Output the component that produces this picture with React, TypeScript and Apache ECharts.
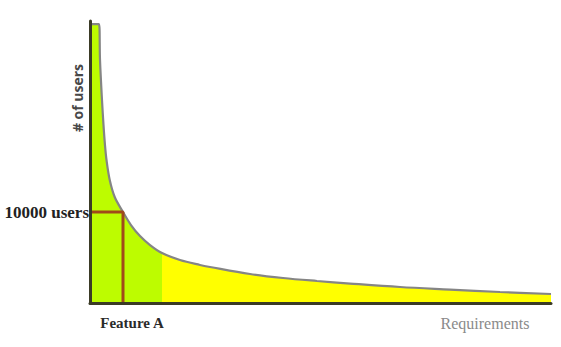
import React, { useEffect, useRef } from "react";
import * as echarts from "echarts";

// Long-tail curve: requirement rank (0..100) vs number of users
const curveX = [0, 1.95, 2.17, 2.6, 2.93, 3.25, 3.58, 4.28, 5.36, 7.16, 8.89, 10.85, 13.02, 15.62, 19.52, 23.86, 26.03, 34.71, 41.87, 49.24, 56.4, 67.25, 78.09, 88.94, 100];
const curveY = [30660, 30660, 26710, 22310, 19560, 17360, 15720, 13520, 11650, 10000, 8570, 7360, 6370, 5490, 4730, 4180, 3960, 3190, 2750, 2420, 2140, 1760, 1480, 1210, 990];
const xMax = 100;
const headLimit = 15.6; // end of the green "head" region
const featureX = 7.16;
const featureUsers = 10000;
const yTicks = [10000];
const texts = { yName: "# of users", xName: "Requirements", feature: "Feature A", usersLabel: "10000 users" };

export default function App() {
  const ref = useRef<HTMLDivElement>(null);
  useEffect(() => {
    if (!ref.current) return;
    const chart = echarts.init(ref.current, null, { renderer: "svg" });
    const pts = curveX.map((x, i) => [x, curveY[i]]);
    const f = headLimit / xMax;
    const green = "#bdfc00";
    const yellow = "#ffff00";
    const serif = "'Liberation Serif', 'DejaVu Serif', serif";
    const sans = "'Open Sans', 'Liberation Sans', sans-serif";
    chart.setOption({
      animation: false,
      grid: { left: 90, right: 10, top: 21, bottom: 44 },
      xAxis: {
        type: "value",
        min: 0,
        max: xMax,
        z: 5,
        axisLine: { show: true, lineStyle: { color: "#3b3b26", width: 3 } },
        axisTick: { show: false },
        axisLabel: { show: false },
        splitLine: { show: false },
      },
      yAxis: {
        type: "value",
        min: 0,
        max: 31000,
        interval: 10000,
        z: 5,
        axisLine: { show: true, lineStyle: { color: "#3b3b26", width: 3 } },
        axisTick: { show: false },
        splitLine: { show: false },
        axisLabel: {
          margin: 1,
          color: "#222",
          fontFamily: serif,
          fontWeight: "bold",
          fontSize: 17,
          formatter: (v: number) => (yTicks.includes(v) ? texts.usersLabel : ""),
        },
      },
      series: [
        {
          type: "line",
          data: pts,
          smooth: 0.35,
          symbol: "none",
          lineStyle: { color: "#858585", width: 2.2 },
          areaStyle: {
            opacity: 1,
            color: {
              type: "linear",
              x: 0,
              y: 0,
              x2: 1,
              y2: 0,
              colorStops: [
                { offset: 0, color: green },
                { offset: f, color: green },
                { offset: f, color: yellow },
                { offset: 1, color: yellow },
              ],
            },
          },
          z: 2,
        },
        {
          type: "line",
          data: [
            [0, featureUsers],
            [featureX, featureUsers],
            [featureX, 0],
          ],
          symbol: "none",
          lineStyle: { color: "#a04a1a", width: 3 },
          z: 3,
        },
      ],
      graphic: [
        {
          type: "text",
          x: 77,
          y: 98,
          rotation: Math.PI / 2,
          style: {
            text: texts.yName,
            fill: "#484848",
            font: `bold 14px ${sans}`,
            align: "center",
            verticalAlign: "middle",
          },
        },
        {
          type: "text",
          x: 132,
          y: 323,
          style: {
            text: texts.feature,
            fill: "#2a2a2a",
            font: `bold 15px ${serif}`,
            align: "center",
            verticalAlign: "middle",
          },
        },
        {
          type: "text",
          x: 485,
          y: 323,
          style: {
            text: texts.xName,
            fill: "#8a8a8a",
            font: `16px ${serif}`,
            align: "center",
            verticalAlign: "middle",
          },
        },
      ],
    });
    return () => chart.dispose();
  }, []);
  return <div ref={ref} style={{ width: 561, height: 347, position: "absolute", left: 0, top: 0 }} />;
}
